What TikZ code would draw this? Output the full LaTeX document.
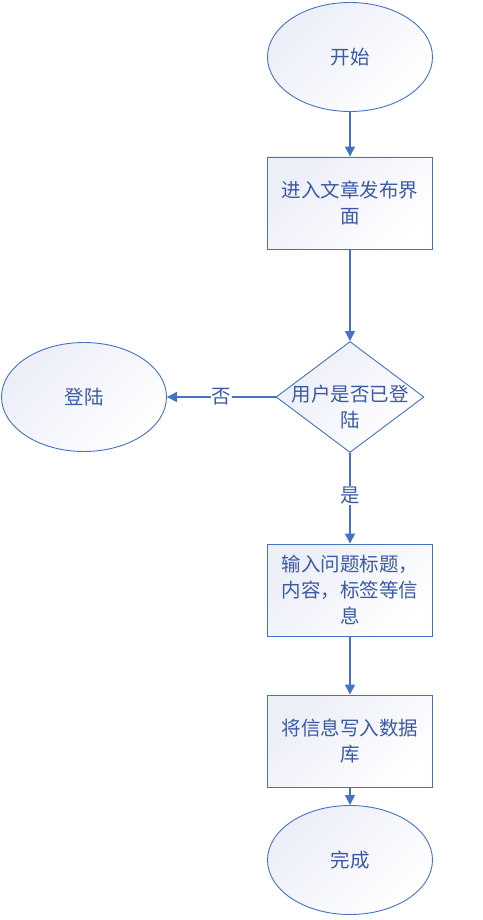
\documentclass[tikz,border=0pt]{standalone}
\usepackage{fontspec}
\setmainfont{Noto Sans CJK SC}
\usetikzlibrary{shapes.geometric,arrows.meta}
\definecolor{lineblue}{RGB}{68,114,196}
\definecolor{textblue}{RGB}{59,89,165}
\definecolor{shadeblue}{RGB}{236,238,248}
\begin{document}
\begin{tikzpicture}[x=1pt, y=-1pt,
  every node/.style={font=\fontsize{19.5}{26}\selectfont, text=textblue},
  shaded/.style={draw=lineblue, line width=0.9pt, top color=shadeblue, bottom color=white, shading angle=45},
  terminal/.style={shaded, ellipse, minimum width=165pt, minimum height=109pt, inner sep=0pt},
  process/.style={shaded, rectangle, minimum width=165pt, minimum height=92pt, inner sep=0pt, align=center},
  decision/.style={shaded, diamond, minimum width=148pt, minimum height=111pt, inner sep=0pt},
  flow/.style={draw=lineblue, line width=1.4pt, -{Triangle[width=10pt,length=10pt]}},
  answer/.style={fill=white, inner sep=1pt}]
\useasboundingbox (0,0) rectangle (482,920);

\node[terminal] (start) at (350,57) {开始};
\node[process] (enter) at (350,203) {进入文章发布界\\面};
\node[decision] (check) at (350,397) {};
\node[align=center] (checktext) at (350,407) {用户是否已登\\陆};
\node[terminal] (login) at (84,397) {登陆};
\node[process] (input) at (350,590) {输入问题标题，\\内容，标签等信\\息};
\node[process] (save) at (350,741) {将信息写入数据\\库};
\node[terminal] (finish) at (350,860) {完成};

\draw[flow] (start) -- (enter);
\draw[flow] (enter) -- (check);
\draw[flow] (check) -- node[answer] {否} (login);
\draw[flow] (check) -- node[answer, pos=0.47] {是} (input);
\draw[flow] (input) -- (save);
\draw[flow] (save) -- (finish);
\end{tikzpicture}
\end{document}
